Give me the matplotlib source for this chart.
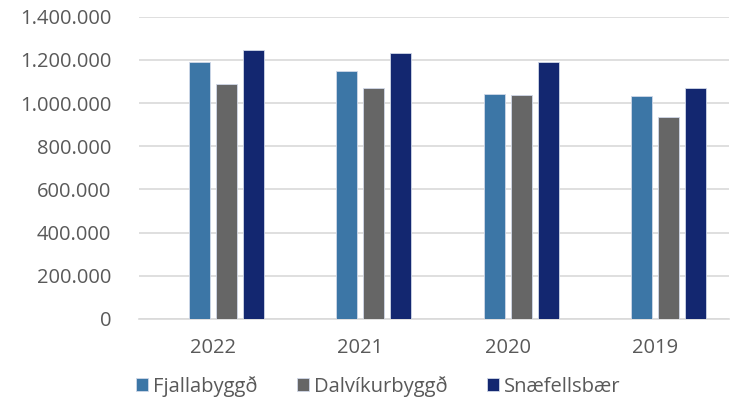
import matplotlib
matplotlib.use('Agg')
import matplotlib.pyplot as plt
import numpy as np
from matplotlib.ticker import FuncFormatter

# -----------------------
# DATA
# -----------------------
years = ["2022", "2021", "2020", "2019"]
fjallabyggd = [1190000, 1150000, 1040000, 1034000]
dalvikurbyggd = [1089000, 1068000, 1037000, 935000]
snaefellsbaer = [1244000, 1230000, 1191000, 1068000]

series = [
    ("Fjallabyggð", fjallabyggd, "#3c76a6"),
    ("Dalvíkurbyggð", dalvikurbyggd, "#666666"),
    ("Snæfellsbær", snaefellsbaer, "#132770"),
]

TEXT = "#595959"
plt.rcParams['font.family'] = ['Open Sans', 'DejaVu Sans']

fig = plt.figure(figsize=(7.32, 4.01), dpi=100)
ax = fig.add_axes([0.19, 0.2045, 0.806, 0.754])

x = np.arange(len(years))
width = 0.142
step = 0.183
# bars sit in slots 2-4 of a four-slot group (first slot empty)
for i, (name, vals, color) in enumerate(series):
    ax.bar(x + (i - 0.5) * step, vals, width, color=color, label=name,
           edgecolor="#d0d8e8", linewidth=0.6, zorder=3)

ax.set_xlim(-0.5, len(years) - 0.5)
ax.set_ylim(0, 1400000)
ax.set_yticks(np.arange(0, 1400001, 200000))
ax.yaxis.set_major_formatter(FuncFormatter(lambda v, p: f"{int(v):,}".replace(",", ".")))
ax.set_xticks(x)
ax.set_xticklabels(years)

ax.grid(axis="y", color="#d9d9d9", linewidth=1.2, zorder=0)
for s in ["top", "right", "left"]:
    ax.spines[s].set_visible(False)
ax.spines["bottom"].set_color("#d9d9d9")
ax.spines["bottom"].set_linewidth(1.2)
ax.tick_params(axis="both", length=0, labelsize=14.5, colors=TEXT)
ax.tick_params(axis="x", pad=14)
ax.tick_params(axis="y", pad=20)

fig.legend(loc="center", bbox_to_anchor=(0.517, 0.037), ncol=3, frameon=False,
           fontsize=14.5, labelcolor=TEXT, handlelength=0.6, handleheight=0.6,
           handletextpad=0.25, columnspacing=1.95)

fig.savefig("out.png", dpi=100)
